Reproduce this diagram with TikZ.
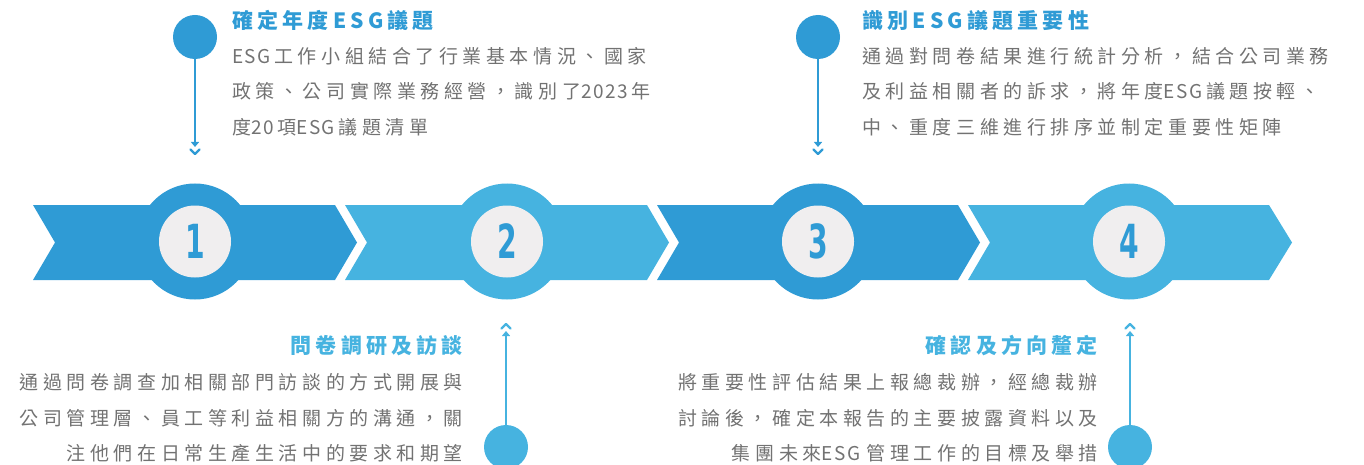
\documentclass[tikz,border=0pt]{standalone}
\usepackage{fontspec}
\usepackage{graphicx}
\usetikzlibrary{arrows.meta}
\newfontfamily\cjkbody[LetterSpace=24]{Noto Sans CJK TC}
\newfontfamily\cjktitle[LetterSpace=20]{Noto Sans CJK TC}
\newfontfamily\latbody[LetterSpace=8]{Noto Sans CJK TC}
\newfontfamily\numfont{DejaVu Sans}
\newcommand\latw[1]{{\latbody #1}\hspace{3.5pt}}
\definecolor{dblue}{HTML}{2F9BD5}
\definecolor{lblue}{HTML}{46B3E0}
\definecolor{cgray}{HTML}{F0EEEF}
\definecolor{tgray}{HTML}{727272}
\tikzset{
  bodytxt/.style={inner sep=0, text=tgray, font={\cjkbody\fontsize{19pt}{19pt}\selectfont}},
  titletxt/.style={inner sep=0, text=#1, font={\cjktitle\bfseries\fontsize{21pt}{21pt}\selectfont}},
  outerc/.style={circle, fill=#1, minimum size=116pt, inner sep=0},
  innerc/.style={circle, fill=cgray, minimum size=72pt, inner sep=0, text=dblue, font={\numfont\bfseries\fontsize{47pt}{47pt}\selectfont}},
  pinc/.style={circle, fill=#1, minimum size=44pt, inner sep=0},
  pinline/.style={draw=#1, line width=2.2pt, -{Triangle[width=8pt,length=5pt]}},
  pinmark/.style={draw=#1, line width=2.2pt, line cap=round, line join=round},
}
\begin{document}
\begin{tikzpicture}[x=1pt,y=-1pt]
\useasboundingbox (0,0) rectangle (1364,465);
% chevrons
\fill[dblue] (33,205) -- (335,205) -- (357,242.5) -- (335,280) -- (33,280) -- (55,242.5) -- cycle;
\fill[lblue] (345,205) -- (647,205) -- (669,242.5) -- (647,280) -- (345,280) -- (367,242.5) -- cycle;
\fill[dblue] (657,205) -- (958,205) -- (980,242.5) -- (958,280) -- (657,280) -- (679,242.5) -- cycle;
\fill[lblue] (968,205) -- (1269,205) -- (1292,242.5) -- (1269,280) -- (968,280) -- (990,242.5) -- cycle;
% number circles
\node[outerc=dblue] (o1) at (195,241.5) {};
\node[outerc=lblue] (o2) at (507,241.5) {};
\node[outerc=dblue] (o3) at (818,241.5) {};
\node[outerc=lblue] (o4) at (1129,241.5) {};
\node[innerc] (n1) at (o1) {\scalebox{0.6}[1]{1}};
\node[innerc] (n2) at (o2) {\scalebox{0.6}[1]{2}};
\node[innerc] (n3) at (o3) {\scalebox{0.6}[1]{3}};
\node[innerc] (n4) at (o4) {\scalebox{0.6}[1]{4}};
% top pins
\node[pinc=dblue] (p1) at (195,37) {};
\coordinate (e1) at (195,147);
\draw[pinline=dblue] (p1) -- (e1);
\draw[pinmark=dblue] (e1) ++(-4.5,2.5) -- ++(4.5,4.5) -- ++(4.5,-4.5);
\node[pinc=dblue] (p3) at (818,37) {};
\coordinate (e3) at (818,147);
\draw[pinline=dblue] (p3) -- (e3);
\draw[pinmark=dblue] (e3) ++(-4.5,2.5) -- ++(4.5,4.5) -- ++(4.5,-4.5);
% bottom pins
\node[pinc=lblue] (p2) at (506,447) {};
\coordinate (e2) at (506,331);
\draw[pinline=lblue] (p2) -- (e2);
\draw[pinmark=lblue] (e2) ++(-4.5,-2.5) -- ++(4.5,-4.5) -- ++(4.5,4.5);
\node[pinc=lblue] (p4) at (1130,447) {};
\coordinate (e4) at (1130,331);
\draw[pinline=lblue] (p4) -- (e4);
\draw[pinmark=lblue] (e4) ++(-4.5,-2.5) -- ++(4.5,-4.5) -- ++(4.5,4.5);
% text block 1
\node[titletxt=dblue, anchor=base west] (t1) at (232,29) {確定年度ESG議題};
\node[bodytxt, anchor=base west] (t1a) at (232,63.2) {\latw{ESG}工作小組結合了行業基本情況、國家};
\node[bodytxt, anchor=base west] (t1b) at (232,98.7) {政策、公司實際業務經營，識別了\latw{2023}年};
\node[bodytxt, anchor=base west] (t1c) at (232,134.2) {度\latw{20}項\latw{ESG}議題清單};
% text block 3
\node[titletxt=dblue, anchor=base west] (t3) at (862,29) {識別ESG議題重要性};
\node[bodytxt, anchor=base west] (t3a) at (862,63.2) {通過對問卷結果進行統計分析，結合公司業務};
\node[bodytxt, anchor=base west] (t3b) at (862,98.7) {及利益相關者的訴求，將年度\latw{ESG}議題按輕、};
\node[bodytxt, anchor=base west] (t3c) at (862,134.2) {中、重度三維進行排序並制定重要性矩陣};
% text block 2
\node[titletxt=lblue, anchor=base east] (t2) at (463,353) {問卷調研及訪談};
\node[bodytxt, anchor=base east] (t2a) at (463,389.5) {通過問卷調查加相關部門訪談的方式開展與};
\node[bodytxt, anchor=base east] (t2b) at (463,425) {公司管理層、員工等利益相關方的溝通，關};
\node[bodytxt, anchor=base east] (t2c) at (463,460.5) {注他們在日常生產生活中的要求和期望};
% text block 4
\node[titletxt=lblue, anchor=base east] (t4) at (1098,353) {確認及方向釐定};
\node[bodytxt, anchor=base east] (t4a) at (1098,389.5) {將重要性評估結果上報總裁辦，經總裁辦};
\node[bodytxt, anchor=base east] (t4b) at (1098,425) {討論後，確定本報告的主要披露資料以及};
\node[bodytxt, anchor=base east] (t4c) at (1098,460.5) {集團未來\latw{ESG}\hspace{3pt}管理工作的目標及舉措};
\end{tikzpicture}
\end{document}
